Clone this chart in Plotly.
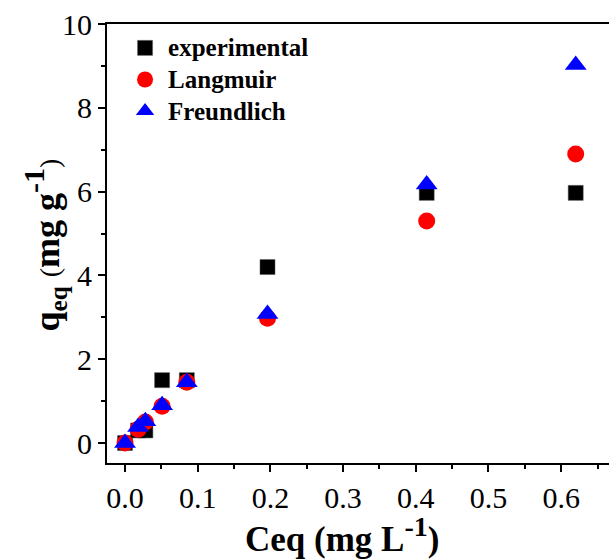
import plotly.graph_objects as go

ceq = [0.0, 0.018, 0.028, 0.051, 0.085, 0.196, 0.415, 0.620]
q_exp = [0.0, 0.30, 0.30, 1.50, 1.50, 4.20, 5.97, 5.97]
q_lang = [0.0, 0.33, 0.50, 0.88, 1.45, 2.98, 5.30, 6.90]
q_freu = [0.0, 0.38, 0.52, 0.90, 1.45, 3.08, 6.17, 9.02]

series_names = ["experimental", "Langmuir", "Freundlich"]
x_ticks = [0.0, 0.1, 0.2, 0.3, 0.4, 0.5, 0.6]
x_ticktext = ["0.0", "0.1", "0.2", "0.3", "0.4", "0.5", "0.6"]
y_ticks = [0, 2, 4, 6, 8, 10]

FONT = "Liberation Serif"

def leg(name):
    return "<span style='font-size:25px'>" + name + "</span>"

fig = go.Figure()
fig.add_trace(go.Scatter(x=ceq, y=q_exp, mode="markers", name=leg(series_names[0]),
                         marker=dict(symbol="square", size=15, color="black",
                                     line=dict(color="#555555", width=0.5))))
fig.add_trace(go.Scatter(x=ceq, y=q_lang, mode="markers", name=leg(series_names[1]),
                         marker=dict(symbol="circle", size=17, color="#ff0000",
                                     line=dict(width=0))))
fig.add_trace(go.Scatter(x=ceq, y=q_freu, mode="markers", name=leg(series_names[2]),
                         marker=dict(symbol="triangle-up", size=19, color="#0000ff",
                                     line=dict(width=0))))

fig.update_layout(
    width=609, height=559,
    margin=dict(l=107, r=0, t=24, b=96),
    paper_bgcolor="white", plot_bgcolor="white",
    font=dict(family=FONT, color="black"),
    showlegend=True,
    legend=dict(x=0.03, y=0.993, xanchor="left", yanchor="top",
                bgcolor="rgba(0,0,0,0)", borderwidth=0,
                font=dict(family=FONT, size=22, color="black", weight="bold"),
                tracegroupgap=0, itemsizing="trace", itemwidth=36),
    xaxis=dict(range=[-0.0248, 0.6658], tickvals=x_ticks, ticktext=x_ticktext,
               showgrid=False, zeroline=False,
               showline=True, linecolor="black", linewidth=2, mirror=True,
               ticks="outside", ticklen=7, tickwidth=2, tickcolor="black",
               minor=dict(ticks="outside", ticklen=4, tickwidth=2, tickcolor="black", dtick=0.05),
               tickfont=dict(family=FONT, size=30, color="black")),
    yaxis=dict(range=[-0.477, 10], tickvals=y_ticks,
               showgrid=False, zeroline=False,
               showline=True, linecolor="black", linewidth=2, mirror=False,
               ticks="outside", ticklen=7, tickwidth=2, tickcolor="black",
               minor=dict(ticks="outside", ticklen=4, tickwidth=2, tickcolor="black", dtick=1),
               tickfont=dict(family=FONT, size=30, color="black")),
    annotations=[
        dict(text="Ceq (mg L<sup><span style='font-size:28px'>-1</span></sup>)",
             xref="paper", yref="paper", x=0.468, y=-0.163,
             xanchor="center", yanchor="middle", showarrow=False,
             font=dict(family=FONT, size=35, color="black", weight="bold")),
        dict(text="q<sub>eq</sub> <span style='font-weight:normal;font-size:28px'>(</span>mg g"
                  "<sup><span style='font-size:30px'>-1</span></sup>"
                  "<span style='font-weight:normal;font-size:28px'>)</span>",
             xref="paper", yref="paper", x=-0.124, y=0.497, textangle=-90,
             xanchor="center", yanchor="middle", showarrow=False,
             font=dict(family=FONT, size=36, color="black", weight="bold")),
    ],
)

fig.write_html("out.html")
